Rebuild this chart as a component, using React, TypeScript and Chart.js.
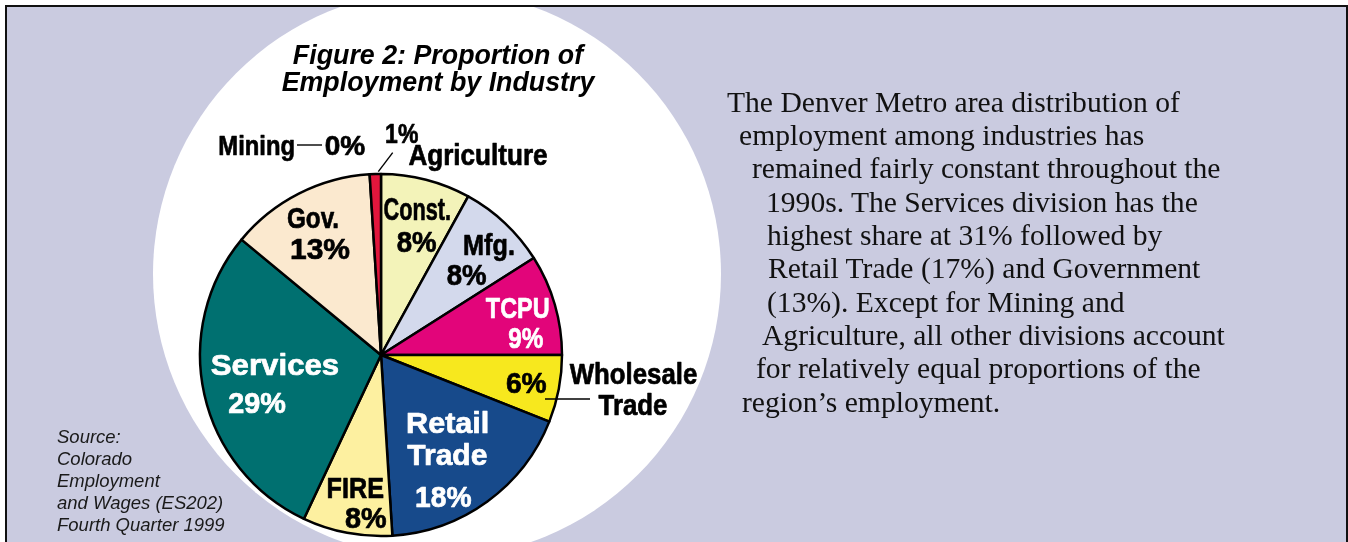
import React, { useEffect, useRef } from "react";
import { Chart, registerables } from "chart.js";

Chart.register(...registerables);

// ---- data ----
const categories = ["Const.", "Mfg.", "TCPU", "Wholesale Trade", "Retail Trade", "FIRE", "Services", "Gov.", "Mining", "Agriculture"];
const shares = [8, 8, 9, 6, 18, 8, 29, 13, 0, 1];
const sliceColors = ["#f3f3b9", "#d3d9ec", "#e2057a", "#f7e81e", "#174a8b", "#fdf0a0", "#007070", "#fbe9cf", "#9a9a9a", "#e2163c"];

const titleLines = ["Figure 2: Proportion of", "Employment by Industry"];
const sourceLines = ["Source:", "Colorado", "Employment", "and Wages (ES202)", "Fourth Quarter 1999"];
const paragraphLines = [
  "The Denver Metro area distribution of",
  "employment among industries has",
  "remained fairly constant throughout the",
  "1990s. The Services division has the",
  "highest share at 31% followed by",
  "Retail Trade (17%) and Government",
  "(13%). Except for Mining and",
  "Agriculture, all other divisions account",
  "for relatively equal proportions of the",
  "region\u2019s employment.",
];
const paragraphIndent = [727, 739, 752, 766, 767, 768, 767, 762, 756, 742];

// label layout: offsets (px at radius 181) from the pie centre, text from categories / shares
type Lbl = { slice: number; kind: "name" | "pct"; part?: number; dx: number; dy: number; color: string; size: number; sx: number };
const nameParts: string[][] = [["Const."], ["Mfg."], ["TCPU"], ["Wholesale", "Trade"], ["Retail", "Trade"], ["FIRE"], ["Services"], ["Gov."], ["Mining"], ["Agriculture"]];
const labelLayout: Lbl[] = [
  { slice: 0, kind: "name", dx: 36.3, dy: -135, color: "#000", size: 31, sx: 0.7 },
  { slice: 0, kind: "pct", dx: 35.7, dy: -103.3, color: "#000", size: 30, sx: 0.92 },
  { slice: 1, kind: "name", dx: 108, dy: -100, color: "#000", size: 30, sx: 0.84 },
  { slice: 1, kind: "pct", dx: 85.7, dy: -70, color: "#000", size: 30, sx: 0.92 },
  { slice: 2, kind: "name", dx: 136.7, dy: -36.7, color: "#fff", size: 30, sx: 0.78 },
  { slice: 2, kind: "pct", dx: 144.7, dy: -6.7, color: "#fff", size: 30, sx: 0.81 },
  { slice: 3, kind: "pct", dx: 145.3, dy: 38.3, color: "#000", size: 30, sx: 0.94 },
  { slice: 3, kind: "name", part: 0, dx: 252.5, dy: 29, color: "#000", size: 29, sx: 0.89 },
  { slice: 3, kind: "name", part: 1, dx: 252, dy: 60, color: "#000", size: 29, sx: 0.89 },
  { slice: 4, kind: "name", part: 0, dx: 66.7, dy: 77.7, color: "#fff", size: 30, sx: 1.02 },
  { slice: 4, kind: "name", part: 1, dx: 66.3, dy: 110, color: "#fff", size: 30, sx: 1.0 },
  { slice: 4, kind: "pct", dx: 62.3, dy: 151.7, color: "#fff", size: 30, sx: 0.94 },
  { slice: 5, kind: "name", dx: -25.7, dy: 143.3, color: "#000", size: 30, sx: 0.84 },
  { slice: 5, kind: "pct", dx: -15.3, dy: 173.3, color: "#000", size: 30, sx: 0.96 },
  { slice: 6, kind: "name", dx: -106, dy: 20, color: "#fff", size: 30, sx: 1.04 },
  { slice: 6, kind: "pct", dx: -124, dy: 58.3, color: "#fff", size: 30, sx: 0.96 },
  { slice: 7, kind: "name", dx: -68, dy: -126.7, color: "#000", size: 30, sx: 0.81 },
  { slice: 7, kind: "pct", dx: -61, dy: -95.7, color: "#000", size: 30, sx: 1.0 },
  { slice: 8, kind: "name", dx: -124.3, dy: -200, color: "#000", size: 28, sx: 0.85 },
  { slice: 8, kind: "pct", dx: -36, dy: -200, color: "#000", size: 28, sx: 1.0 },
  { slice: 9, kind: "pct", dx: 20.7, dy: -211.7, color: "#000", size: 28, sx: 0.82 },
  { slice: 9, kind: "name", dx: 97, dy: -190, color: "#000", size: 29, sx: 0.9 },
];
const leaderLines = [
  [-84, -210, -59, -210],
  [11.7, -202.3, -2.7, -183.3],
  [164, 44, 209, 44],
];

const LABEL_FONT = '"Liberation Sans", Arial, Helvetica, sans-serif';

const labelPlugin = {
  id: "sliceLabels",
  afterDatasetsDraw(chart: any) {
    const meta = chart.getDatasetMeta(0);
    const arc = meta.data[0];
    if (!arc) return;
    const cx = arc.x, cy = arc.y;
    const k = arc.outerRadius / 181;
    const ctx = chart.ctx;
    ctx.save();
    ctx.strokeStyle = "#000";
    ctx.lineWidth = 1.4;
    for (const [x1, y1, x2, y2] of leaderLines) {
      ctx.beginPath();
      ctx.moveTo(cx + x1 * k, cy + y1 * k);
      ctx.lineTo(cx + x2 * k, cy + y2 * k);
      ctx.stroke();
    }
    ctx.textAlign = "center";
    ctx.textBaseline = "alphabetic";
    ctx.lineJoin = "round";
    for (const l of labelLayout) {
      const text = l.kind === "pct" ? `${shares[l.slice]}%` : nameParts[l.slice][l.part ?? 0];
      ctx.save();
      ctx.translate(cx + l.dx * k, cy + l.dy * k);
      ctx.scale(l.sx, 1);
      ctx.font = `bold ${l.size}px ${LABEL_FONT}`;
      ctx.fillStyle = l.color;
      ctx.strokeStyle = l.color;
      ctx.lineWidth = 0.7;
      ctx.fillText(text, 0, 0);
      ctx.strokeText(text, 0, 0);
      ctx.restore();
    }
    ctx.restore();
  },
};

export default function App() {
  const canvasRef = useRef<HTMLCanvasElement | null>(null);

  useEffect(() => {
    if (!canvasRef.current) return;
    const chart = new Chart(canvasRef.current, {
      type: "pie",
      data: {
        labels: categories,
        datasets: [
          {
            data: shares,
            backgroundColor: sliceColors,
            borderColor: "#000",
            borderWidth: 2.5,
            borderJoinStyle: "round",
          } as any,
        ],
      },
      options: {
        responsive: false,
        animation: false,
        events: [],
        radius: 181,
        layout: { padding: { left: 0, right: 586, top: 168, bottom: 0 } },
        plugins: { legend: { display: false }, tooltip: { enabled: false }, title: { display: false } },
      } as any,
      plugins: [labelPlugin],
    });
    return () => chart.destroy();
  }, []);

  return (
    <div style={{ position: "absolute", left: 0, top: 0, width: 1348, height: 542, overflow: "hidden", background: "#fff" }}>
      <div
        style={{
          position: "absolute",
          left: 5,
          top: 5,
          width: 1343,
          height: 570,
          boxSizing: "border-box",
          border: "2px solid #111",
          background: "#cacbe0",
          overflow: "hidden",
        }}
      >
        <div
          style={{
            position: "absolute",
            left: 437 - 284 - 7,
            top: 274 - 284 - 7,
            width: 568,
            height: 568,
            borderRadius: "50%",
            background: "#fff",
          }}
        />
      </div>
      <canvas ref={canvasRef} width={1348} height={542} style={{ position: "absolute", left: 0, top: 0, width: 1348, height: 542 }} />
      <div
        style={{
          position: "absolute",
          left: 238,
          top: 42.2,
          width: 400,
          textAlign: "center",
          font: `italic bold 26.8px ${LABEL_FONT}`,
          lineHeight: "26.5px",
          color: "#000",
          whiteSpace: "nowrap",
        }}
      >
        {titleLines.map((t, i) => (
          <div key={i}>{t}</div>
        ))}
      </div>
      <div
        style={{
          position: "absolute",
          left: 57,
          top: 425.9,
          font: `italic 18.5px ${LABEL_FONT}`,
          lineHeight: "21.9px",
          color: "#1a1a1a",
          whiteSpace: "nowrap",
        }}
      >
        {sourceLines.map((t, i) => (
          <div key={i}>{t}</div>
        ))}
      </div>
      {paragraphLines.map((t, i) => (
        <div
          key={i}
          style={{
            position: "absolute",
            left: paragraphIndent[i],
            top: 112 - 26.5 + i * 33.35,
            font: '29.6px "Liberation Serif", "Times New Roman", serif',
            lineHeight: "33.4px",
            color: "#111",
            whiteSpace: "nowrap",
          }}
        >
          {t}
        </div>
      ))}
    </div>
  );
}
